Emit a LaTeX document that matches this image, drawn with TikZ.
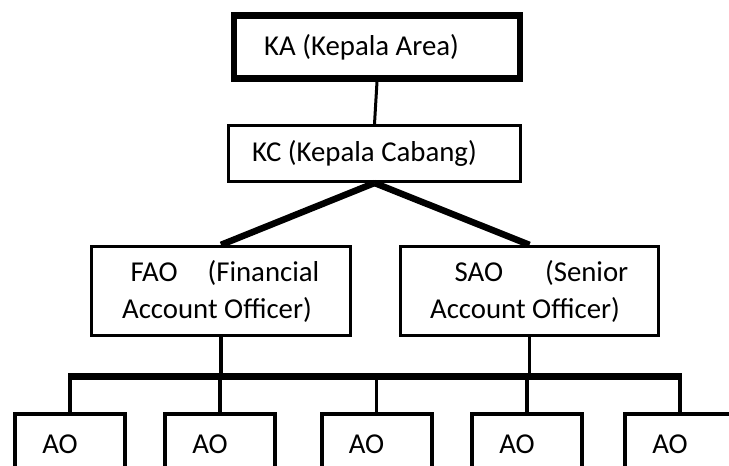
\documentclass[tikz,border=0pt]{standalone}
\usepackage{fontspec}
\setmainfont{Carlito}
\usetikzlibrary{shadows}

\begin{document}
\begin{tikzpicture}[x=1pt,y=-1pt,
  box/.style={draw,line width=3.3pt,fill=white,inner sep=0pt},
  aobox/.style={box,line width=4pt,minimum width=110pt,minimum height=60pt},
  link/.style={line width=3.5pt},
  thick link/.style={line width=6.5pt},
  font=\fontsize{28.8}{37}\selectfont]
\useasboundingbox (0,0) rectangle (729,466);
\clip (0,0) rectangle (729,466);
%kepala
\node[box,line width=6.5pt,minimum width=286pt,minimum height=63pt,
  drop shadow={shadow xshift=2.5pt,shadow yshift=2.5pt,fill=gray!45}]
  (ka) at (377,47) {KA (Kepala Area)\hspace*{31pt}};
\node[box,line width=3pt,minimum width=292pt,minimum height=56pt]
  (kc) at (374.5,153.5) {KC (Kepala Cabang)\hspace*{20pt}};
\draw[link,line width=3pt] (ka.south)--(kc.north);
%officer
\node[box,minimum width=259pt,minimum height=89pt,align=center]
  (fao) at (221,291) {\hspace*{8pt}FAO\hspace{30pt}(Financial\\Account Officer)\hspace*{8pt}};
\node[box,minimum width=258pt,minimum height=89pt,align=center]
  (sao) at (529.5,291) {\hspace*{24pt}SAO\hspace{42pt}(Senior\\Account Officer)\hspace*{9pt}};
\draw[thick link] (kc.south)--(fao.north);
\draw[thick link] (kc.south)--(sao.north);
%ao
\node[aobox] (ao1) at (70,444) {AO\hspace*{20pt}};
\node[aobox] (ao2) at (220,444) {AO\hspace*{20pt}};
\node[aobox] (ao3) at (376.5,444) {AO\hspace*{20pt}};
\node[aobox] (ao4) at (527,444) {AO\hspace*{20pt}};
\node[aobox] (ao5) at (680,444) {AO\hspace*{20pt}};
\coordinate (bus) at (0,376.5);
\draw[thick link,line width=7pt] ([xshift=-2pt]ao1.north |- bus)--([xshift=2pt]ao5.north |- bus);
\draw[link] (fao.south)--(fao.south |- bus);
\draw[link] (sao.south)--(sao.south |- bus);
\foreach \i in {1,...,5}
  \draw[link] (ao\i.north |- bus)--(ao\i.north);
\end{tikzpicture}
\end{document}
